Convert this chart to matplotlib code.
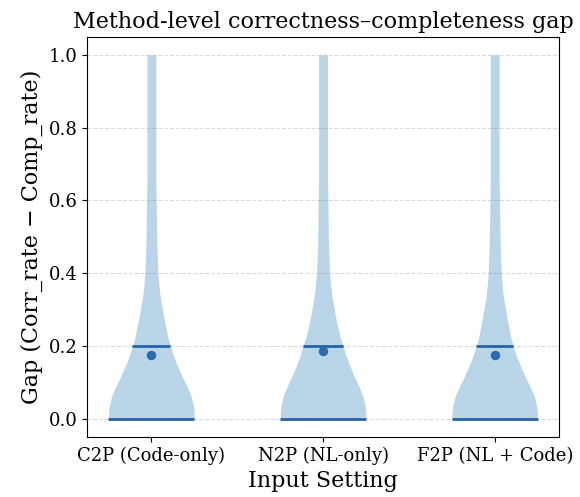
import numpy as np
import matplotlib.pyplot as plt

plt.rcParams['font.family'] = 'DejaVu Serif'

settings = ['C2P (Code-only)', 'N2P (NL-only)', 'F2P (NL + Code)']

# violin outline: gap level -> half width (x units)
gap_levels = [0.0, 0.016, 0.034, 0.061, 0.089, 0.117, 0.144, 0.172, 0.201, 0.227,
              0.254, 0.282, 0.309, 0.337, 0.364, 0.400, 0.475, 0.600, 0.658, 0.800, 1.0]
half_c2p = [0.250, 0.249, 0.246, 0.232, 0.207, 0.178, 0.153, 0.129, 0.110, 0.094,
            0.083, 0.071, 0.061, 0.051, 0.044, 0.038, 0.032, 0.028, 0.026, 0.026, 0.026]
half_n2p = [0.250, 0.249, 0.246, 0.233, 0.209, 0.181, 0.157, 0.134, 0.116, 0.098,
            0.085, 0.072, 0.062, 0.052, 0.045, 0.038, 0.032, 0.028, 0.026, 0.026, 0.026]
half_f2p = [0.250, 0.249, 0.245, 0.231, 0.205, 0.176, 0.151, 0.127, 0.107, 0.092,
            0.081, 0.070, 0.060, 0.050, 0.044, 0.038, 0.032, 0.028, 0.026, 0.026, 0.026]

q1_gap = [0.0, 0.0, 0.0]
q3_gap = [0.2, 0.2, 0.2]
mean_gap = [0.175, 0.187, 0.176]

fig = plt.figure(figsize=(5.8, 4.97), dpi=100)
ax = fig.add_axes([0.15, 0.121, 0.814, 0.805])

line_col = '#2463a7'
for i, half in enumerate([half_c2p, half_n2p, half_f2p]):
    pos = i + 1
    half = np.array(half)
    ax.fill_betweenx(gap_levels, pos - half, pos + half, color='#1f77b4', alpha=0.3,
                     linewidth=0, zorder=2)
    for q in (q1_gap[i], q3_gap[i]):
        w = np.interp(q, gap_levels, half)
        ax.hlines(q, pos - w, pos + w, color=line_col, linewidth=2, zorder=3)
    ax.scatter(pos, mean_gap[i], s=34, color='#2a6cb0', zorder=4)

ax.set_xlim(0.625, 3.375)
ax.set_ylim(-0.05, 1.05)
ax.set_xticks([1, 2, 3])
ax.set_xticklabels(settings, fontsize=13)
ax.set_yticks(np.arange(0, 1.01, 0.2))
ax.tick_params(axis='y', labelsize=13)
ax.yaxis.grid(True, linestyle='--', color='#cccccc', alpha=0.7, zorder=0)
ax.set_axisbelow(True)

ax.set_title('Method-level correctness\u2013completeness gap', fontsize=16)
ax.set_xlabel('Input Setting', fontsize=16)
ax.set_ylabel('Gap (Corr_rate \u2212 Comp_rate)', fontsize=16)

fig.savefig('out.png', dpi=100)
